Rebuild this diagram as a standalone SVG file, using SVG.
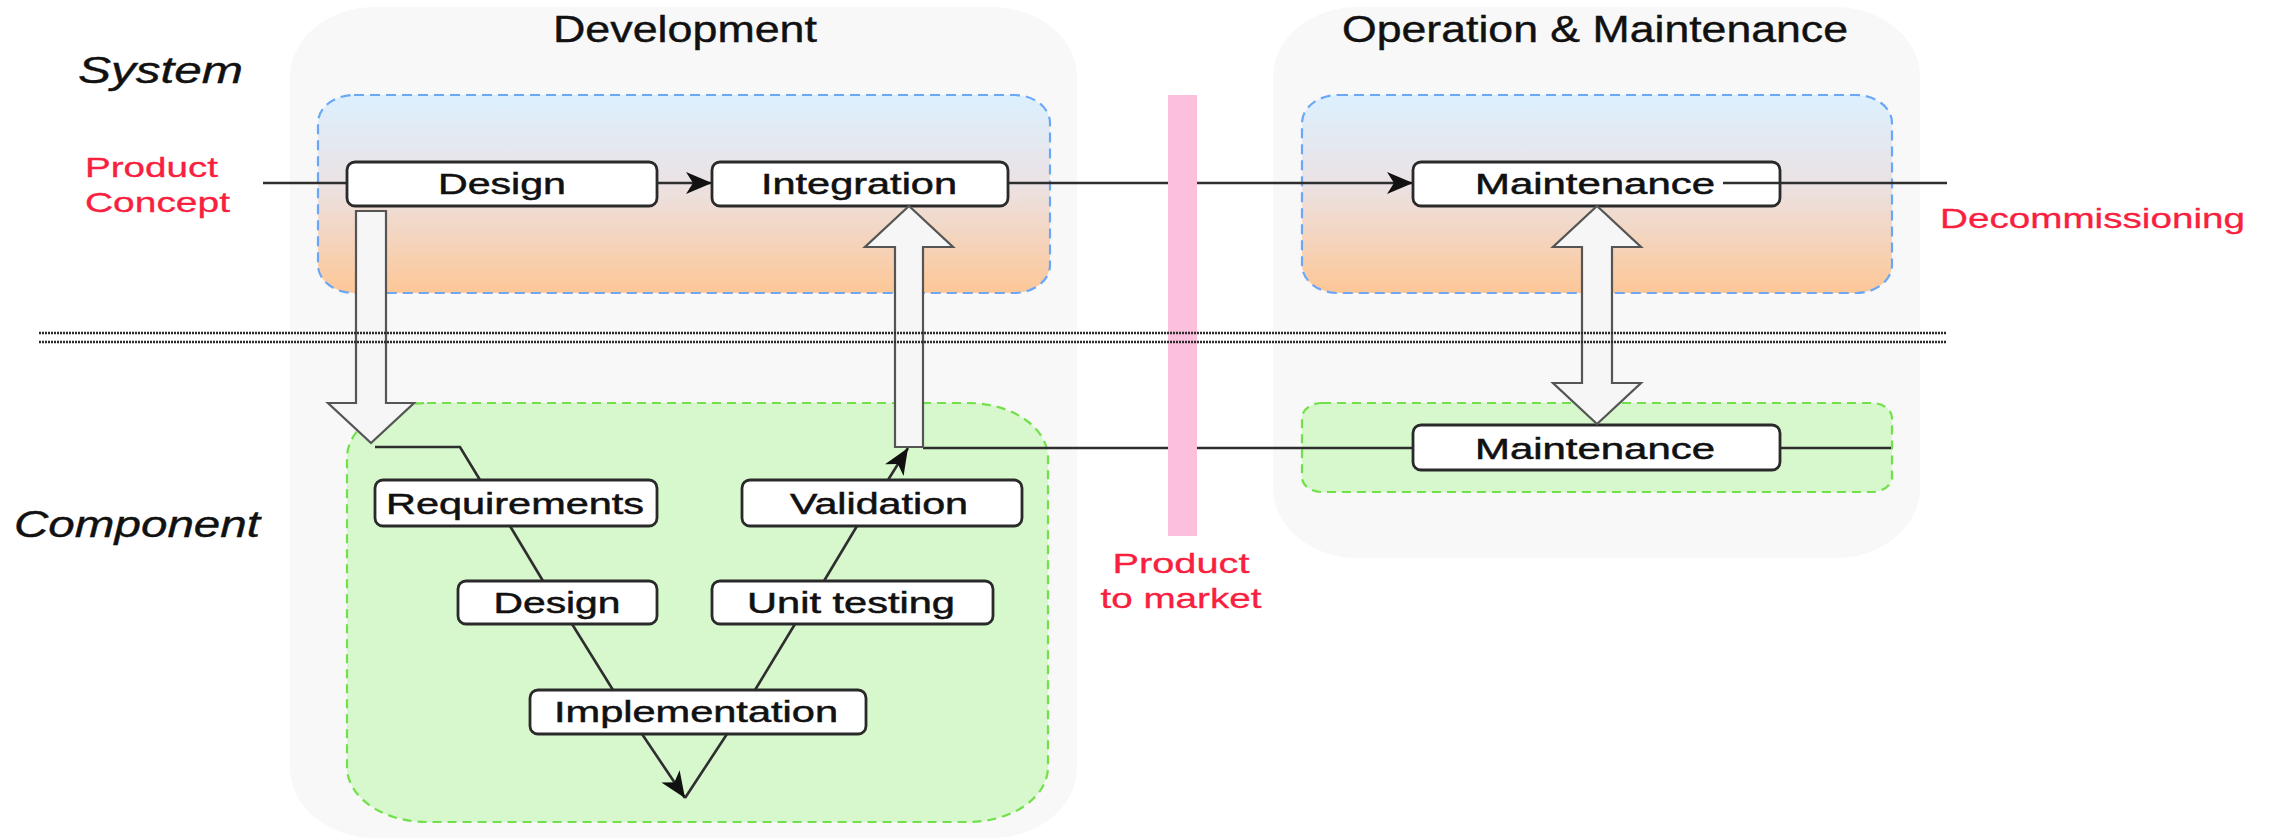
<svg xmlns="http://www.w3.org/2000/svg" width="2274" height="840" viewBox="0 0 2274 840">
  <style>
    .phase { fill: #f8f8f8; stroke: none; }
    .title { font-family: "Liberation Sans", Arial, sans-serif; font-size: 36px; fill: #111; stroke: #111; stroke-width: 0.4; }
    .level { font-family: "Liberation Sans", Arial, sans-serif; font-size: 37px; font-style: italic; fill: #111; stroke: #111; stroke-width: 0.4; }
    .milestone { font-family: "Liberation Sans", Arial, sans-serif; font-size: 28px; fill: #f8203e; stroke: #f8203e; stroke-width: 0.3; }
    .sys { fill: url(#sysFill); stroke: #6aa8f7; stroke-width: 2.2; stroke-dasharray: 10 6; }
    .comp { fill: #d6f8cc; stroke: #72e04a; stroke-width: 2.2; stroke-dasharray: 9 6; }
    .node rect { fill: #ffffff; stroke: #2a2a2a; stroke-width: 2.8; }
    .node text { font-family: "Liberation Sans", Arial, sans-serif; font-size: 29px; fill: #111; stroke: #111; stroke-width: 0.5; text-anchor: middle; }
    .link { fill: none; stroke: #2e2e2e; stroke-width: 2.6; }
    .hollow { fill: #f6f6f6; stroke: #555; stroke-width: 2.2; stroke-linejoin: miter; }
    .sep { stroke: #2a2a2a; stroke-width: 2.6; stroke-dasharray: 2 1; }
  </style>
  <defs>
    <linearGradient id="sysFill" x1="0" y1="0" x2="0" y2="1">
      <stop offset="0" stop-color="#dcf0fe"/>
      <stop offset="0.45" stop-color="#ebe2e4"/>
      <stop offset="1" stop-color="#fdc797"/>
    </linearGradient>
    <marker id="arr" markerUnits="userSpaceOnUse" markerWidth="28" markerHeight="24" refX="26" refY="11" orient="auto">
      <path d="M0,0 L26,11 L0,22 L7,11 Z" fill="#111"/>
    </marker>
  </defs>

  <rect width="2274" height="840" fill="#ffffff"/>

  <!-- phase panels -->
  <g id="phase-development">
    <rect class="phase" x="290" y="7" width="787" height="831" rx="85" ry="70"/>
    <text class="title" x="553" y="42" textLength="264" lengthAdjust="spacingAndGlyphs">Development</text>
  </g>
  <g id="phase-operation">
    <rect class="phase" x="1273" y="7" width="647" height="551" rx="85" ry="70"/>
    <text class="title" x="1342" y="42" textLength="506" lengthAdjust="spacingAndGlyphs">Operation &amp; Maintenance</text>
  </g>

  <!-- level labels -->
  <g id="level-system">
    <text class="level" x="78" y="83" textLength="165" lengthAdjust="spacingAndGlyphs">System</text>
  </g>
  <g id="level-component">
    <text class="level" x="14" y="537" textLength="246" lengthAdjust="spacingAndGlyphs">Component</text>
  </g>

  <!-- swimlane areas -->
  <g id="area-system-dev"><rect class="sys" x="318" y="95" width="732" height="198" rx="36" ry="28"/></g>
  <g id="area-system-ops"><rect class="sys" x="1302" y="95" width="590" height="198" rx="36" ry="28"/></g>
  <g id="area-component-dev"><rect class="comp" x="347" y="403" width="701" height="419" rx="80" ry="55"/></g>
  <g id="area-component-ops"><rect class="comp" x="1302" y="403" width="590" height="89" rx="20" ry="15"/></g>

  <!-- connectors -->
  <g id="connectors">
    <line class="link" x1="263" y1="183" x2="347" y2="183"/>
    <line class="link" x1="657" y1="183" x2="712" y2="183" marker-end="url(#arr)"/>
    <line class="link" x1="1008" y1="183" x2="1413" y2="183" marker-end="url(#arr)"/>
    <polyline class="link" points="375,447 460,447 480,480"/>
    <line class="link" x1="510" y1="526" x2="543" y2="581"/>
    <line class="link" x1="572" y1="624" x2="613" y2="690"/>
    <line class="link" x1="642" y1="734" x2="685" y2="798" marker-end="url(#arr)"/>
    <line class="link" x1="685" y1="798" x2="727" y2="734"/>
    <line class="link" x1="755" y1="690" x2="795" y2="624"/>
    <line class="link" x1="824" y1="581" x2="857" y2="526"/>
    <line class="link" x1="888" y1="480" x2="908" y2="448" marker-end="url(#arr)"/>
    <line class="link" x1="923" y1="448" x2="1413" y2="448"/>
    <line class="link" x1="1780" y1="448" x2="1891" y2="448"/>
  </g>

  <!-- system level nodes -->
  <g id="node-design" class="node">
    <rect x="347" y="162" width="310" height="44" rx="8"/>
    <text x="502" y="194" textLength="128" lengthAdjust="spacingAndGlyphs">Design</text>
  </g>
  <g id="node-integration" class="node">
    <rect x="712" y="162" width="296" height="44" rx="8"/>
    <text x="859" y="194" textLength="196" lengthAdjust="spacingAndGlyphs">Integration</text>
  </g>
  <g id="node-maintenance-system" class="node">
    <rect x="1413" y="162" width="367" height="44" rx="8"/>
    <text x="1595" y="194" textLength="240" lengthAdjust="spacingAndGlyphs">Maintenance</text>
  </g>

  <!-- component level nodes -->
  <g id="node-requirements" class="node">
    <rect x="375" y="480" width="282" height="46" rx="8"/>
    <text x="515" y="514" textLength="258" lengthAdjust="spacingAndGlyphs">Requirements</text>
  </g>
  <g id="node-validation" class="node">
    <rect x="742" y="480" width="280" height="46" rx="8"/>
    <text x="879" y="514" textLength="178" lengthAdjust="spacingAndGlyphs">Validation</text>
  </g>
  <g id="node-design-component" class="node">
    <rect x="458" y="581" width="199" height="43" rx="8"/>
    <text x="557" y="613" textLength="127" lengthAdjust="spacingAndGlyphs">Design</text>
  </g>
  <g id="node-unit-testing" class="node">
    <rect x="712" y="581" width="281" height="43" rx="8"/>
    <text x="851" y="613" textLength="208" lengthAdjust="spacingAndGlyphs">Unit testing</text>
  </g>
  <g id="node-implementation" class="node">
    <rect x="530" y="690" width="336" height="44" rx="8"/>
    <text x="696" y="722" textLength="284" lengthAdjust="spacingAndGlyphs">Implementation</text>
  </g>
  <g id="node-maintenance-component" class="node">
    <rect x="1413" y="425" width="367" height="45" rx="8"/>
    <text x="1595" y="459" textLength="240" lengthAdjust="spacingAndGlyphs">Maintenance</text>
  </g>

  <!-- exit line toward decommissioning -->
  <g id="connector-decommission">
    <line class="link" x1="1723" y1="183" x2="1947" y2="183"/>
  </g>

  <!-- level transitions -->
  <g id="transition-down">
    <path class="hollow" d="M356,211 H386 V403 H414 L371,443 L328,403 H356 Z"/>
  </g>
  <g id="transition-up">
    <path class="hollow" d="M895,447 V247 H865 L909,206 L953,247 H923 V447 Z"/>
  </g>
  <g id="transition-both">
    <path class="hollow" d="M1582,247 H1553 L1597,206 L1641,247 H1612 V383 H1641 L1597,424 L1553,383 H1582 Z"/>
  </g>

  <!-- market release marker -->
  <g id="product-to-market">
    <rect x="1168" y="95" width="29" height="441" fill="#fcc0dd"/>
    <text class="milestone" x="1181" y="573" text-anchor="middle" textLength="137" lengthAdjust="spacingAndGlyphs">Product</text>
    <text class="milestone" x="1181" y="608" text-anchor="middle" textLength="161" lengthAdjust="spacingAndGlyphs">to market</text>
  </g>

  <!-- level separator -->
  <g id="separator">
    <line class="sep" x1="39" y1="333" x2="1947" y2="333"/>
    <line class="sep" x1="39" y1="342" x2="1947" y2="342"/>
  </g>

  <!-- lifecycle endpoints -->
  <g id="product-concept">
    <text class="milestone" x="85" y="177" textLength="133" lengthAdjust="spacingAndGlyphs">Product</text>
    <text class="milestone" x="85" y="212" textLength="145" lengthAdjust="spacingAndGlyphs">Concept</text>
  </g>
  <g id="decommissioning">
    <text class="milestone" x="1940" y="228" textLength="305" lengthAdjust="spacingAndGlyphs">Decommissioning</text>
  </g>
</svg>
